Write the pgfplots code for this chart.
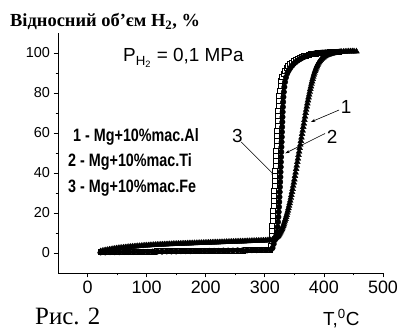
\documentclass[border=0pt]{standalone}
\usepackage{fontspec}
\setmainfont{Liberation Sans}
\newfontfamily\timesfont{Liberation Serif}
\usepackage{graphicx}
\usepackage{pgfplots}
\pgfplotsset{compat=1.18}
\usetikzlibrary{arrows.meta}
\begin{document}
\begin{tikzpicture}
\path[use as bounding box] (0,0) rectangle (402bp,330bp);
\begin{axis}[at={(58bp,57bp)}, anchor=south west, scale only axis,
  width=325bp, height=240bp,
  xmin=-50, xmax=500, ymin=-10, ymax=110,
  axis lines=left, axis line style={-, line width=0.9pt},
  xtick={0,100,...,500}, ytick={0,20,...,100},
  minor x tick num=1, minor y tick num=1,
  tick align=outside, major tick length=4.5bp, minor tick length=2.5bp,
  every tick/.style={black, line width=0.8pt},
  xticklabel style={font=\fontsize{18}{18}\selectfont},
  yticklabel style={font=\fontsize{14.5}{14.5}\selectfont},
  /pgf/number format/assume math mode=true,
  clip=false]
% curve 3: Mg+10% Fe (open squares)
\addplot[only marks, mark=square*, mark size=2.5pt, black, mark options={fill=white, line width=0.6pt}] coordinates {
(22,0.5)(28,0.5)(34,0.5)(40,0.6)(46,0.6)(52,0.6)(58,0.6)(64,0.7)(70,0.7)(76,0.7)
(82,0.7)(88,0.8)(94,0.8)(100,0.8)(106,0.8)(112,0.8)(118,0.9)(124,0.9)(130,0.9)(136,0.9)
(142,0.9)(148,1.0)(154,1.0)(160,1.0)(166,1.0)(172,1.0)(178,1.1)(184,1.1)(190,1.1)(196,1.1)
(202,1.1)(208,1.2)(214,1.2)(220,1.2)(226,1.2)(232,1.2)(238,1.3)(244,1.3)(250,1.3)(256,1.3)
(262,1.3)(268,1.4)(274,1.4)(280,1.4)(286,1.4)(292,1.5)(298,1.5)(304,1.5)(309,1.6)
(310.6,3.5)(311.1,6)(311.6,8.5)(312.1,11)(312.6,13.5)(313.1,16)(313.6,18.5)(314.1,21)(314.6,23.5)(315.1,26)
(315.6,28.5)(316,31)(316.4,33.5)(316.8,36)(317.2,38.5)(317.6,41)(318,43.5)(318.4,46)(318.8,48.5)(319.2,51)
(319.6,53.5)(320,56)(320.4,58.5)(320.8,61)(321.2,63.5)(321.6,66)(322,68.5)(322.5,71)(323,73.5)(323.6,76)
(324.3,78.5)(325.1,81)(326.2,83.5)(327.7,86)(329.5,88)(331.6,89.8)(334,91.2)(336.6,92.4)(339.5,93.5)(343,94.4)
(346,95.2)(349,95.9)(352,96.5)(355.5,97.1)(359,97.6)(362.5,98)(366,98.4)(370,98.8)(374,99.1)(378,99.4)
(382,99.6)(386,99.8)(390,100)(394,100.1)(398,100.2)(402,100.3)(406,100.3)(410,100.4)(414,100.4)(418,100.4)
(422,100.4)(426,100.4)
};
% curve 2: Mg+10% Ti (filled circles)
\addplot[only marks, mark=*, mark size=2.8pt, black] coordinates {
(22,0.3)(30,0.3)(38,0.4)(46,0.4)(54,0.4)(62,0.5)(70,0.5)(78,0.5)(86,0.6)(94,0.6)
(102,0.6)(110,0.7)(118,0.7)(126,0.7)(134,0.8)(142,0.8)(150,0.8)(158,0.9)(166,0.9)(174,0.9)
(182,1.0)(190,1.0)(198,1.0)(206,1.1)(214,1.1)(222,1.1)(230,1.2)(238,1.2)(246,1.2)(254,1.3)
(262,1.3)(270,1.3)(278,1.4)(286,1.4)(294,1.5)(302,1.5)(310,1.6)
(313,2.5)(315,4.5)(317,6.5)(319,8.5)(320.5,10.5)(321.5,13)(322.3,15.5)(323,18)(323.5,20.5)(324,23)
(324.4,25.5)(324.8,28)(325.2,30.5)(325.6,33)(326,35.5)(326.3,38)(326.6,40.5)(326.9,43)(327.2,45.5)(327.5,48)
(327.8,50.5)(328.1,53)(328.4,55.5)(328.7,58)(329,60.5)(329.3,63)(329.6,65.5)(329.9,68)(330.2,70.5)(330.6,73)
(331,75.5)(331.5,78)(332.2,80.5)(333,83)(334.2,85.5)(335.8,87.8)(338,89.8)(340.5,91.3)(343,92.5)(346,93.6)
(349,94.6)(352,95.4)(355,96.1)(358,96.7)(361,97.2)(364,97.7)(367,98.1)(370,98.5)(373,98.8)(376,99.1)
(379,99.4)(382,99.6)(385,99.8)(388,99.9)(391,100)(394,100.1)(397,100.2)(400,100.2)(403,100.3)(406,100.3)
(409,100.4)(412,100.4)(415,100.4)(418,100.4)
};
% curve 1: Mg+10% Al (filled triangles)
\addplot[only marks, mark=triangle*, mark size=3.4pt, black] coordinates {
(22,0.8)(25,1.0)(28,1.2)(31,1.4)(34,1.5)(37,1.7)(40,1.8)(43,2.0)(46,2.1)(49,2.3)
(52,2.4)(55,2.5)(58,2.6)(61,2.7)(64,2.8)(67,2.9)(70,3.0)(73,3.1)(76,3.15)(79,3.2)
(82,3.3)(85,3.4)(88,3.45)(91,3.5)(94,3.6)(97,3.7)(100,3.75)(103,3.8)(106,3.9)(109,3.9)
(112,4.0)(115,4.0)(118,4.1)(121,4.1)(124,4.2)(127,4.2)(130,4.3)(133,4.3)(136,4.35)(139,4.4)
(142,4.4)(145,4.5)(148,4.5)(151,4.55)(154,4.6)(157,4.6)(160,4.65)(163,4.7)(166,4.7)(169,4.75)
(172,4.8)(175,4.8)(178,4.85)(181,4.9)(184,4.9)(187,4.95)(190,5.0)(193,5.0)(196,5.05)(199,5.1)
(202,5.1)(205,5.15)(208,5.2)(211,5.2)(214,5.25)(217,5.3)(220,5.3)(223,5.35)(226,5.4)(229,5.4)
(232,5.45)(235,5.5)(238,5.5)(241,5.55)(244,5.6)(247,5.6)(250,5.65)(253,5.7)(256,5.7)(259,5.75)
(262,5.8)(265,5.8)(268,5.85)(271,5.9)(274,5.9)(277,5.95)(280,6.0)(283,6.0)(286,6.05)(289,6.1)
(292,6.1)(295,6.15)(298,6.2)(301,6.2)(304,6.3)(307,6.35)(310,6.4)
(313,6.6)(314,6.7)(315,6.85)(316,7.0)(317,7.2)(318,7.4)(319,7.6)(320,7.85)(321,8.1)(322,8.4)
(323,8.8)(324,9.2)(325,9.7)(326,10.2)(327,10.8)(328,11.4)(329,12.0)(330,12.7)(331,13.5)(332,14.3)
(333,15.2)(334,16.1)(335,17.0)(336,18.0)(337,19.0)(338,20.1)(339,21.2)(340,22.4)(341,23.6)(342,24.9)
(343,26.2)(344,27.6)(345,29.0)(346,30.5)(347,32.0)(348,33.6)(349,35.2)(350,36.8)(351,38.5)(352,40.2)
(353,42.0)(354,43.7)(355,45.5)(356,47.2)(357,49.0)(358,50.7)(359,52.5)(360,54.2)(361,56.0)(362,57.7)
(363,59.5)(364,61.2)(365,63.0)(366,64.7)(367,66.5)(368,68.2)(369,70.0)(370,71.6)(371,73.2)(372,74.8)
(373,76.3)(374,77.8)(375,79.2)(376,80.6)(377,82.0)(378,83.3)(379,84.6)(380,85.8)(381,87.0)(382,88.1)
(383,89.2)(384,90.1)(385,91.0)(386,91.8)(387,92.6)(388,93.3)(389,94.0)(390,94.6)(391.5,95.3)(393,95.9)
(394.5,96.5)(396,97.0)(397.5,97.4)(399,97.8)(400.5,98.1)(402,98.4)(404,98.7)(406,99.0)(408,99.2)(410,99.4)
(412,99.6)(414,99.7)(416,99.85)(418,100.0)(420,100.1)(422,100.2)(424,100.3)(426,100.4)(428,100.45)(430,100.5)
(433,100.6)(436,100.65)(439,100.7)(442,100.75)(445,100.8)(448,100.8)(451,100.8)(455,100.8)
};
\node[font=\fontsize{19}{19}\selectfont] at (axis cs:437.5,73) {1};
\node[font=\fontsize{19}{19}\selectfont] at (axis cs:413.9,58.25) {2};
\node[font=\fontsize{19}{19}\selectfont] at (axis cs:253.4,58.75) {3};
\draw[line width=0.6pt, -{Stealth[length=4.5bp,width=3bp]}] (axis cs:425.7,71.5) -- (axis cs:378,65.5);
\draw[line width=0.6pt, -{Stealth[length=4.5bp,width=3bp]}] (axis cs:402,59.75) -- (axis cs:334.5,49.85);
\draw[line width=0.6pt, -{Stealth[length=4.5bp,width=3bp]}] (axis cs:260,55.5) -- (axis cs:317.6,38.5);
\end{axis}
\node[anchor=base west, inner sep=0] at (10bp,303bp) {\timesfont\bfseries\fontsize{18.5}{18.5}\selectfont Відносний об’єм H\textsubscript{2}, \%};
\node[anchor=base west, inner sep=0] at (123bp,268bp) {\fontsize{19}{19}\selectfont P\textsubscript{H\textsubscript{2}} = 0,1 MPa};
\node[anchor=base west, inner sep=0] at (73bp,188bp) {\scalebox{0.8}[1]{\bfseries\fontsize{18}{18}\selectfont 1 - Mg+10\%mac.Al}};
\node[anchor=base west, inner sep=0] at (68bp,163bp) {\scalebox{0.8}[1]{\bfseries\fontsize{18}{18}\selectfont 2 - Mg+10\%mac.Ti}};
\node[anchor=base west, inner sep=0] at (68bp,137bp) {\scalebox{0.8}[1]{\bfseries\fontsize{18}{18}\selectfont 3 - Mg+10\%mac.Fe}};
\node[anchor=base west, inner sep=0] at (35bp,6bp) {\timesfont\fontsize{25}{25}\selectfont Рис. 2};
\node[anchor=base west, inner sep=0] at (323bp,5bp) {\fontsize{19}{19}\selectfont T,\textsuperscript{0}C};
\end{tikzpicture}
\end{document}
